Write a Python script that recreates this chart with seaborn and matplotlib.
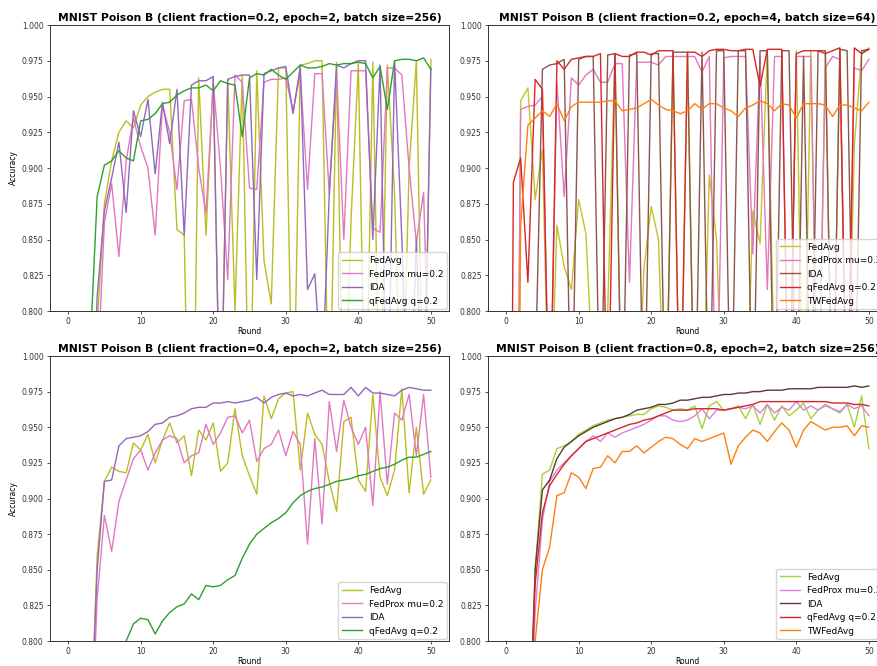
import matplotlib
matplotlib.use("Agg")
import matplotlib.pyplot as plt
import numpy as np
import pandas as pd
import seaborn as sns

rounds = list(range(51))

methods4 = ["FedAvg", "FedProx mu=0.2", "IDA", "qFedAvg q=0.2"]
methods5 = ["FedAvg", "FedProx mu=0.2", "IDA", "qFedAvg q=0.2", "TWFedAvg"]

# ---- Panel 1: client fraction=0.2, epoch=2, batch size=256 ----
tl_fedavg = [0.10, 0.30, 0.50, 0.65, 0.79, 0.875, 0.905, 0.925, 0.933, 0.928,
             0.944, 0.950, 0.953, 0.955, 0.955, 0.857, 0.853, 0.60, 0.963, 0.853,
             0.962, 0.70, 0.962, 0.80, 0.965, 0.70, 0.968, 0.835, 0.805, 0.970,
             0.970, 0.70, 0.972, 0.973, 0.975, 0.975, 0.70, 0.974, 0.70, 0.864,
             0.973, 0.70, 0.974, 0.70, 0.972, 0.882, 0.70, 0.90, 0.975, 0.70,
             0.976]
tl_fedprox = [0.05, 0.20, 0.40, 0.60, 0.75, 0.862, 0.889, 0.838, 0.905, 0.935,
              0.915, 0.900, 0.853, 0.944, 0.925, 0.885, 0.947, 0.948, 0.900, 0.868,
              0.960, 0.900, 0.822, 0.965, 0.960, 0.886, 0.885, 0.960, 0.962, 0.962,
              0.963, 0.940, 0.966, 0.885, 0.966, 0.966, 0.882, 0.967, 0.850, 0.968,
              0.968, 0.968, 0.858, 0.855, 0.970, 0.970, 0.965, 0.900, 0.848, 0.883,
              0.700]
tl_ida = [0.08, 0.25, 0.45, 0.65, 0.81, 0.870, 0.893, 0.918, 0.869, 0.940,
          0.922, 0.948, 0.896, 0.946, 0.917, 0.955, 0.853, 0.958, 0.961, 0.961,
          0.964, 0.700, 0.962, 0.964, 0.965, 0.965, 0.822, 0.966, 0.968, 0.970,
          0.971, 0.938, 0.971, 0.815, 0.826, 0.750, 0.882, 0.972, 0.970, 0.973,
          0.975, 0.975, 0.850, 0.972, 0.700, 0.975, 0.850, 0.700, 0.850, 0.700,
          0.970]
tl_qfedavg = [0.11, 0.45, 0.62, 0.77, 0.880, 0.902, 0.905, 0.912, 0.907, 0.905,
              0.933, 0.934, 0.938, 0.945, 0.946, 0.951, 0.954, 0.956, 0.956, 0.958,
              0.954, 0.961, 0.959, 0.958, 0.922, 0.963, 0.966, 0.965, 0.969, 0.965,
              0.962, 0.967, 0.972, 0.970, 0.970, 0.971, 0.973, 0.972, 0.973, 0.973,
              0.974, 0.973, 0.963, 0.971, 0.941, 0.975, 0.976, 0.976, 0.975, 0.977,
              0.969]

# ---- Panel 2: client fraction=0.2, epoch=4, batch size=64 ----
tr_fedavg = [0.10, 0.30, 0.947, 0.956, 0.878, 0.913, 0.700, 0.860, 0.831, 0.815,
             0.878, 0.854, 0.750, 0.700, 0.800, 0.980, 0.700, 0.700, 0.700, 0.830,
             0.873, 0.850, 0.700, 0.980, 0.700, 0.980, 0.700, 0.700, 0.895, 0.850,
             0.700, 0.750, 0.700, 0.700, 0.870, 0.847, 0.982, 0.750, 0.700, 0.700,
             0.982, 0.700, 0.982, 0.700, 0.982, 0.700, 0.983, 0.700, 0.916, 0.980,
             0.984]
tr_fedprox = [0.10, 0.30, 0.941, 0.943, 0.944, 0.950, 0.700, 0.960, 0.880, 0.963,
              0.958, 0.965, 0.969, 0.960, 0.960, 0.973, 0.973, 0.820, 0.974, 0.974,
              0.974, 0.972, 0.978, 0.978, 0.978, 0.978, 0.978, 0.967, 0.978, 0.700,
              0.977, 0.978, 0.978, 0.978, 0.840, 0.978, 0.815, 0.978, 0.978, 0.700,
              0.978, 0.978, 0.978, 0.700, 0.970, 0.978, 0.976, 0.700, 0.970, 0.968,
              0.976]
tr_ida = [0.10, 0.30, 0.50, 0.70, 0.75, 0.969, 0.972, 0.973, 0.976, 0.700,
          0.976, 0.978, 0.978, 0.700, 0.979, 0.980, 0.700, 0.979, 0.980, 0.700,
          0.980, 0.980, 0.700, 0.981, 0.981, 0.981, 0.700, 0.981, 0.700, 0.982,
          0.982, 0.700, 0.982, 0.982, 0.700, 0.982, 0.982, 0.700, 0.982, 0.982,
          0.700, 0.978, 0.700, 0.982, 0.982, 0.700, 0.983, 0.982, 0.700, 0.982,
          0.983]
tr_qfedavg = [0.10, 0.890, 0.907, 0.820, 0.962, 0.955, 0.700, 0.975, 0.969, 0.976,
              0.977, 0.978, 0.978, 0.980, 0.700, 0.980, 0.978, 0.978, 0.981, 0.981,
              0.979, 0.982, 0.982, 0.982, 0.700, 0.981, 0.981, 0.978, 0.982, 0.983,
              0.983, 0.982, 0.982, 0.983, 0.983, 0.957, 0.983, 0.983, 0.983, 0.700,
              0.980, 0.982, 0.982, 0.982, 0.980, 0.982, 0.984, 0.700, 0.984, 0.980,
              0.983]
tr_tw = [0.05, 0.20, 0.860, 0.930, 0.935, 0.940, 0.936, 0.945, 0.933, 0.943,
         0.946, 0.946, 0.946, 0.946, 0.947, 0.947, 0.940, 0.941, 0.942, 0.945,
         0.948, 0.944, 0.941, 0.940, 0.938, 0.940, 0.945, 0.941, 0.945, 0.945,
         0.942, 0.940, 0.936, 0.942, 0.944, 0.947, 0.945, 0.940, 0.945, 0.944,
         0.935, 0.945, 0.945, 0.945, 0.944, 0.936, 0.944, 0.944, 0.942, 0.940,
         0.946]

# ---- Panel 3: client fraction=0.4, epoch=2, batch size=256 ----
bl_fedavg = [0.10, 0.30, 0.50, 0.72, 0.86, 0.912, 0.922, 0.919, 0.918, 0.939,
             0.934, 0.945, 0.925, 0.941, 0.953, 0.939, 0.944, 0.916, 0.948, 0.941,
             0.953, 0.919, 0.925, 0.963, 0.930, 0.916, 0.903, 0.972, 0.956, 0.970,
             0.974, 0.975, 0.920, 0.960, 0.945, 0.938, 0.912, 0.891, 0.954, 0.957,
             0.913, 0.905, 0.973, 0.915, 0.902, 0.920, 0.977, 0.904, 0.950, 0.903,
             0.913]
bl_fedprox = [0.10, 0.30, 0.50, 0.70, 0.83, 0.888, 0.863, 0.898, 0.913, 0.928,
              0.934, 0.920, 0.932, 0.941, 0.944, 0.942, 0.925, 0.930, 0.932, 0.952,
              0.938, 0.946, 0.957, 0.958, 0.946, 0.955, 0.926, 0.935, 0.938, 0.948,
              0.930, 0.947, 0.938, 0.868, 0.942, 0.882, 0.968, 0.933, 0.969, 0.950,
              0.938, 0.950, 0.895, 0.975, 0.910, 0.960, 0.955, 0.973, 0.930, 0.973,
              0.915]
bl_ida = [0.10, 0.30, 0.50, 0.72, 0.85, 0.912, 0.913, 0.937, 0.942, 0.943,
          0.944, 0.947, 0.952, 0.953, 0.957, 0.958, 0.960, 0.963, 0.964, 0.964,
          0.967, 0.967, 0.968, 0.967, 0.968, 0.969, 0.971, 0.967, 0.971, 0.973,
          0.974, 0.972, 0.973, 0.972, 0.974, 0.976, 0.973, 0.973, 0.973, 0.978,
          0.972, 0.978, 0.974, 0.974, 0.973, 0.972, 0.976, 0.978, 0.977, 0.976,
          0.976]
bl_qfedavg = [0.10, 0.20, 0.30, 0.40, 0.50, 0.60, 0.70, 0.76, 0.800, 0.812,
              0.816, 0.815, 0.805, 0.814, 0.820, 0.824, 0.826, 0.833, 0.829, 0.839,
              0.838, 0.839, 0.843, 0.846, 0.858, 0.868, 0.875, 0.879, 0.883, 0.886,
              0.890, 0.897, 0.902, 0.905, 0.907, 0.908, 0.910, 0.912, 0.913, 0.914,
              0.916, 0.917, 0.919, 0.921, 0.922, 0.924, 0.927, 0.929, 0.929, 0.931,
              0.933]

# ---- Panel 4: client fraction=0.8, epoch=2, batch size=256 ----
br_fedavg = [0.10, 0.30, 0.50, 0.70, 0.85, 0.917, 0.920, 0.935, 0.937, 0.940,
             0.945, 0.948, 0.951, 0.953, 0.955, 0.956, 0.957, 0.958, 0.959, 0.959,
             0.963, 0.965, 0.964, 0.962, 0.963, 0.962, 0.965, 0.949, 0.965, 0.968,
             0.962, 0.963, 0.965, 0.956, 0.966, 0.952, 0.966, 0.955, 0.965, 0.958,
             0.962, 0.967, 0.956, 0.962, 0.965, 0.963, 0.960, 0.966, 0.950, 0.972,
             0.935]
br_fedprox = [0.10, 0.30, 0.50, 0.70, 0.82, 0.885, 0.912, 0.920, 0.925, 0.930,
              0.935, 0.940, 0.944, 0.940, 0.946, 0.943, 0.946, 0.948, 0.950, 0.952,
              0.955, 0.958, 0.958, 0.955, 0.954, 0.955, 0.958, 0.963, 0.956, 0.962,
              0.962, 0.963, 0.964, 0.963, 0.965, 0.960, 0.966, 0.960, 0.964, 0.962,
              0.968, 0.962, 0.965, 0.962, 0.966, 0.963, 0.961, 0.966, 0.963, 0.965,
              0.958]
br_ida = [0.10, 0.30, 0.50, 0.70, 0.85, 0.906, 0.913, 0.928, 0.936, 0.940,
          0.944, 0.947, 0.950, 0.952, 0.954, 0.956, 0.957, 0.959, 0.962, 0.963,
          0.964, 0.966, 0.966, 0.967, 0.969, 0.969, 0.970, 0.971, 0.971, 0.972,
          0.973, 0.973, 0.974, 0.974, 0.975, 0.975, 0.976, 0.976, 0.976, 0.977,
          0.977, 0.977, 0.977, 0.978, 0.978, 0.978, 0.978, 0.978, 0.979, 0.978,
          0.979]
br_qfedavg = [0.10, 0.30, 0.50, 0.70, 0.84, 0.890, 0.909, 0.917, 0.924, 0.930,
              0.935, 0.940, 0.942, 0.944, 0.946, 0.948, 0.950, 0.952, 0.953, 0.955,
              0.956, 0.958, 0.960, 0.962, 0.962, 0.962, 0.963, 0.963, 0.963, 0.963,
              0.962, 0.963, 0.964, 0.965, 0.966, 0.968, 0.968, 0.968, 0.968, 0.968,
              0.968, 0.968, 0.968, 0.968, 0.968, 0.967, 0.967, 0.967, 0.966, 0.966,
              0.965]
br_tw = [0.10, 0.30, 0.50, 0.70, 0.80, 0.850, 0.866, 0.902, 0.904, 0.918,
         0.915, 0.907, 0.921, 0.922, 0.930, 0.925, 0.933, 0.933, 0.937, 0.932,
         0.936, 0.940, 0.943, 0.942, 0.938, 0.935, 0.942, 0.940, 0.942, 0.944,
         0.946, 0.924, 0.937, 0.943, 0.948, 0.946, 0.940, 0.947, 0.953, 0.948,
         0.936, 0.948, 0.954, 0.951, 0.948, 0.950, 0.950, 0.951, 0.944, 0.951,
         0.950]

colors_a = {"FedAvg": "#bcbd22", "FedProx mu=0.2": "#e377c2",
            "IDA": "#9467bd", "qFedAvg q=0.2": "#2ca02c"}
colors_b = {"FedAvg": "#c2c42a", "FedProx mu=0.2": "#e377c2", "IDA": "#8c564b",
            "qFedAvg q=0.2": "#d62728", "TWFedAvg": "#ff7f0e"}
colors_c = {"FedAvg": "#a9cf3a", "FedProx mu=0.2": "#e07de0", "IDA": "#5c3a30",
            "qFedAvg q=0.2": "#d62728", "TWFedAvg": "#ff7f0e"}

plt.rcParams["font.family"] = ["DejaVu Sans"]

fig = plt.figure(figsize=(8.78, 6.66), dpi=100)
W, H = 878.0, 666.0

def make_ax(left, top, right, bottom):
    return fig.add_axes([left / W, 1 - bottom / H, (right - left) / W, (bottom - top) / H])

panels = [
    (make_ax(50, 25, 449, 311), [tl_fedavg, tl_fedprox, tl_ida, tl_qfedavg], methods4, colors_a,
     "MNIST Poison B (client fraction=0.2, epoch=2, batch size=256)", True),
    (make_ax(488, 25, 887, 311), [tr_fedavg, tr_fedprox, tr_ida, tr_qfedavg, tr_tw], methods5, colors_b,
     "MNIST Poison B (client fraction=0.2, epoch=4, batch size=64)", False),
    (make_ax(50, 356, 449, 641), [bl_fedavg, bl_fedprox, bl_ida, bl_qfedavg], methods4, colors_a,
     "MNIST Poison B (client fraction=0.4, epoch=2, batch size=256)", True),
    (make_ax(488, 356, 887, 641), [br_fedavg, br_fedprox, br_ida, br_qfedavg, br_tw], methods5, colors_c,
     "MNIST Poison B (client fraction=0.8, epoch=2, batch size=256)", False),
]

for ax, series, names, cols, title, show_ylabel in panels:
    frames = [pd.DataFrame({"Round": rounds, "Accuracy": vals, "Method": name})
              for name, vals in zip(names, series)]
    df = pd.concat(frames, ignore_index=True)
    sns.lineplot(data=df, x="Round", y="Accuracy", hue="Method", hue_order=names,
                 palette=cols, estimator=None, linewidth=1.0, ax=ax)
    ax.set_xlim(-2.5, 52.5)
    ax.set_ylim(0.8, 1.0)
    ax.set_xticks([0, 10, 20, 30, 40, 50])
    ax.set_yticks(np.arange(0.8, 1.0001, 0.025))
    ax.yaxis.set_major_formatter(matplotlib.ticker.FormatStrFormatter("%.3f"))
    ax.tick_params(labelsize=5.5, length=2.5, width=0.6, colors="#333333", pad=2)
    for s in ax.spines.values():
        s.set_linewidth(0.7)
        s.set_color("#333333")
    ax.set_xlabel("Round", fontsize=5.5, labelpad=0.5)
    ax.set_ylabel("Accuracy" if show_ylabel else "", fontsize=5.5, labelpad=3)
    ax.set_title(title, fontsize=7.75, fontweight="bold", pad=3)
    leg = ax.legend(loc="lower right", fontsize=6.5, frameon=True, borderaxespad=0.2,
                    handlelength=2.2, labelspacing=0.5, fancybox=True)
    for line in leg.get_lines():
        line.set_linewidth(1.0)

fig.savefig("out.png", dpi=100)
